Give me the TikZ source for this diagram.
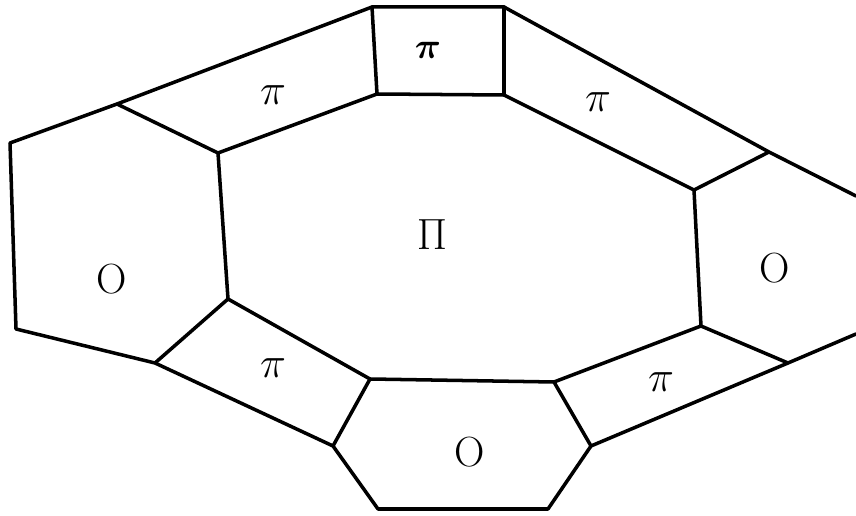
\documentclass[tikz,border=0pt]{standalone}
\usepackage{tikz}
\usetikzlibrary{calc}

\begin{document}
\begin{tikzpicture}[
  x=0.02cm, y=-0.02cm,
  wall/.style={line width=2pt, line join=round, line cap=round},
  lbl/.style={font=\fontsize{24}{26}\selectfont, inner sep=0pt},
  biglbl/.style={font=\fontsize{34}{36}\selectfont, inner sep=0pt},
]
  \useasboundingbox (0,0) rectangle (856,516);

  % inner octagon
  \coordinate (i1) at (218,153);
  \coordinate (i2) at (377,94);
  \coordinate (i3) at (504,95);
  \coordinate (i4) at (694,190);
  \coordinate (i5) at (701,326);
  \coordinate (i6) at (554,382);
  \coordinate (i7) at (370,379);
  \coordinate (i8) at (228,299);

  % outer corners
  \coordinate (tl) at (372,7);
  \coordinate (tr) at (504,7);
  \coordinate (ul) at (117,104);
  \coordinate (lt) at (10,143);
  \coordinate (lb) at (16,329);
  \coordinate (ll) at (155,363);
  \coordinate (bl) at (333,446);
  \coordinate (bbl) at (378,509);
  \coordinate (bbr) at (548,509);
  \coordinate (br) at (591,446);
  \coordinate (rl) at (788,363);
  \coordinate (re) at (856,334);
  \coordinate (ur) at (769,152);
  \coordinate (rt) at (856,196);

  \draw[wall] (i1) -- (i2) -- (i3) -- (i4) -- (i5) -- (i6) -- (i7) -- (i8) -- cycle;

  % outer outline
  \draw[wall] (rt) -- (ur) -- (tr) -- (tl) -- (ul) -- (lt) -- (lb) -- (ll)
              -- (bl) -- (bbl) -- (bbr) -- (br) -- (rl) -- (re);

  % spokes
  \draw[wall] (tl) -- (i2);
  \draw[wall] (tr) -- (i3);
  \draw[wall] (ul) -- (i1);
  \draw[wall] (ur) -- (i4);
  \draw[wall] (ll) -- (i8);
  \draw[wall] (bl) -- (i7);
  \draw[wall] (br) -- (i6);
  \draw[wall] (rl) -- (i5);

  % labels
  \node[lbl, font=\fontsize{22}{24}\selectfont\boldmath] (ptop) at (428,50) {$\pi$};
  \node[lbl] (pul) at (273,95) {$\pi$};
  \node[lbl] (pur) at (598,102) {$\pi$};
  \node[biglbl] (pmid) at (432,235) {$\Pi$};
  \node[lbl] (ol) at (112,279) {O};
  \node[lbl] (or) at (775,268) {O};
  \node[lbl] (pbl) at (273,368) {$\pi$};
  \node[lbl] (ob) at (470,452) {O};
  \node[lbl] (pbr) at (661,382) {$\pi$};
\end{tikzpicture}
\end{document}
